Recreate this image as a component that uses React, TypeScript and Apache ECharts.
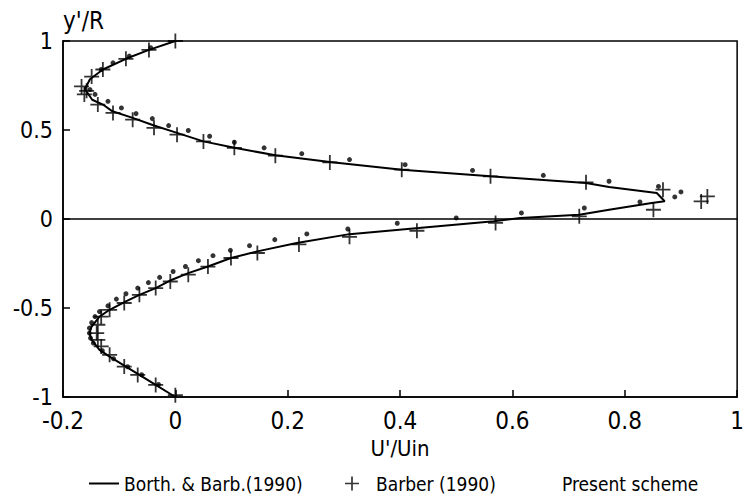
import React, { useEffect, useRef } from "react";
import * as echarts from "echarts";

const FONT = "'DejaVu Sans Condensed', 'Liberation Sans Narrow', 'DejaVu Sans', sans-serif";

// Borth. & Barb. (1990) curve: U'/Uin vs y'/R
const borthU = [0, -0.047, -0.088, -0.129, -0.152, -0.161, -0.148, -0.129, -0.112, -0.076, -0.038, 0.003, 0.05, 0.105, 0.178, 0.275, 0.403, 0.561, 0.731, 0.772, 0.857, 0.871, 0.848, 0.772, 0.719, 0.614, 0.567, 0.433, 0.31, 0.216, 0.146, 0.099, 0.058, 0.023, -0.006, -0.035, -0.064, -0.088, -0.117, -0.135, -0.149, -0.153, -0.149, -0.135, -0.117, -0.088, -0.064, -0.035, 0];
const borthY = [1, 0.95, 0.9, 0.84, 0.785, 0.73, 0.67, 0.643, 0.605, 0.568, 0.525, 0.484, 0.436, 0.4, 0.358, 0.32, 0.277, 0.24, 0.202, 0.18, 0.146, 0.1, 0.09, 0.052, 0.024, 0.006, -0.013, -0.051, -0.085, -0.135, -0.182, -0.219, -0.267, -0.304, -0.341, -0.388, -0.426, -0.463, -0.51, -0.548, -0.604, -0.641, -0.679, -0.735, -0.773, -0.829, -0.876, -0.932, -1];

// Barber (1990) measurements
const barberU = [0, -0.047, -0.088, -0.129, -0.149, -0.167, -0.158, -0.162, -0.138, -0.111, -0.076, -0.038, 0.003, 0.05, 0.105, 0.178, 0.275, 0.403, 0.561, 0.731, 0.868, 0.947, 0.936, 0.851, 0.719, 0.57, 0.43, 0.31, 0.22, 0.146, 0.099, 0.058, 0.023, -0.009, -0.035, -0.064, -0.091, -0.117, -0.132, -0.138, -0.14, -0.138, -0.132, -0.117, -0.091, -0.067, -0.035, 0];
const barberY = [1, 0.95, 0.9, 0.84, 0.8, 0.745, 0.72, 0.7, 0.643, 0.596, 0.558, 0.512, 0.474, 0.436, 0.4, 0.356, 0.318, 0.277, 0.24, 0.206, 0.165, 0.127, 0.099, 0.052, 0.015, -0.022, -0.066, -0.1, -0.143, -0.191, -0.219, -0.267, -0.313, -0.351, -0.388, -0.426, -0.472, -0.51, -0.548, -0.594, -0.641, -0.679, -0.716, -0.763, -0.829, -0.876, -0.932, -0.99];

// Present scheme
const presentU = [-0.044, -0.082, -0.111, -0.132, -0.152, -0.143, -0.12, -0.096, -0.07, -0.041, -0.012, 0.023, 0.061, 0.105, 0.158, 0.225, 0.31, 0.409, 0.529, 0.655, 0.772, 0.86, 0.9, 0.889, 0.827, 0.728, 0.616, 0.5, 0.395, 0.307, 0.234, 0.177, 0.132, 0.098, 0.067, 0.041, 0.018, -0.004, -0.028, -0.048, -0.067, -0.088, -0.105, -0.12, -0.135, -0.143, -0.149, -0.153, -0.153, -0.151, -0.146, -0.13, -0.11, -0.085, -0.06, -0.03];
const presentY = [0.962, 0.915, 0.877, 0.84, 0.727, 0.7, 0.661, 0.624, 0.592, 0.564, 0.525, 0.497, 0.465, 0.431, 0.4, 0.367, 0.334, 0.305, 0.273, 0.245, 0.212, 0.183, 0.152, 0.124, 0.096, 0.062, 0.034, 0.006, -0.024, -0.056, -0.084, -0.116, -0.15, -0.176, -0.206, -0.234, -0.267, -0.295, -0.328, -0.357, -0.388, -0.42, -0.45, -0.488, -0.52, -0.548, -0.582, -0.613, -0.641, -0.669, -0.697, -0.74, -0.785, -0.83, -0.875, -0.93];

const xTicks = [-0.2, 0, 0.2, 0.4, 0.6, 0.8, 1];
const yTicks = [-1, -0.5, 0, 0.5, 1];

const PLUS = "path://M8.8,0H11.2V8.8H20V11.2H11.2V20H8.8V11.2H0V8.8H8.8Z";
const BAR = "path://M0,0H30V2H0Z";
const zip = (a: number[], b: number[]) => a.map((v, i) => [v, b[i]]);
const fmt = (v: number) => String(Math.round(v * 10) / 10);

export default function App() {
  const ref = useRef<HTMLDivElement>(null);
  useEffect(() => {
    if (!ref.current) return;
    const chart = echarts.init(ref.current, undefined, { renderer: "svg" });
    const legendText = { fontSize: 19, color: "#000", fontFamily: FONT };
    chart.setOption({
      animation: false,
      backgroundColor: "#fff",
      textStyle: { fontFamily: FONT, color: "#000" },
      grid: { left: 63, right: 1, top: 41, bottom: 106, show: true, borderColor: "#000", borderWidth: 1.5 },
      legend: [
        { left: 89, top: 474, padding: 0, itemWidth: 30, itemHeight: 2, data: [{ name: "Borth. & Barb.(1990)", icon: BAR }], textStyle: legendText },
        { left: 345, top: 474, padding: 0, itemWidth: 14, itemHeight: 14, data: [{ name: "Barber (1990)", icon: PLUS }], textStyle: { ...legendText, padding: [0, 0, 0, 12] } },
        { left: 557, top: 474, padding: 0, itemWidth: 0, itemHeight: 14, data: [{ name: "Present scheme", icon: "none" }], textStyle: legendText },
      ],
      xAxis: {
        type: "value", min: xTicks[0], max: xTicks[xTicks.length - 1], interval: 0.2,
        name: "U'/Uin", nameLocation: "middle", nameGap: 40,
        nameTextStyle: { fontSize: 22, color: "#000", fontFamily: FONT },
        axisLine: { onZero: false, lineStyle: { color: "#000", width: 1.5 } },
        axisTick: { inside: true, length: 7, lineStyle: { color: "#000", width: 1.5 } },
        axisLabel: { fontSize: 24, color: "#000", margin: 12, formatter: fmt, showMaxLabel: true },
        splitLine: { show: false },
      },
      yAxis: {
        type: "value", min: yTicks[0], max: yTicks[yTicks.length - 1], interval: 0.5,
        name: "y'/R", nameLocation: "end", nameGap: 8,
        nameTextStyle: { fontSize: 24, color: "#000", align: "left", verticalAlign: "bottom", fontFamily: FONT },
        axisLine: { onZero: false, lineStyle: { color: "#000", width: 1.5 } },
        axisTick: { inside: true, length: 7, lineStyle: { color: "#000", width: 1.5 } },
        axisLabel: { fontSize: 23, color: "#000", margin: 10, formatter: fmt },
        splitLine: { show: false },
      },
      series: [
        {
          name: "Borth. & Barb.(1990)", type: "line", data: zip(borthU, borthY),
          symbol: "none", lineStyle: { color: "#000", width: 2 }, itemStyle: { color: "#000" },
          markLine: { silent: true, symbol: "none", label: { show: false }, lineStyle: { color: "#000", width: 1.5, type: "solid" }, data: [{ yAxis: 0 }] },
        },
        {
          name: "Barber (1990)", type: "scatter", data: zip(barberU, barberY),
          symbol: PLUS, symbolSize: 15, itemStyle: { color: "#000" },
        },
        {
          name: "Present scheme", type: "scatter", data: zip(presentU, presentY),
          symbol: "circle", symbolSize: 5, itemStyle: { color: "#000" },
        },
      ],
    });
    return () => chart.dispose();
  }, []);
  return <div ref={ref} style={{ width: 747, height: 503, position: "absolute", left: 0, top: 0 }} />;
}
